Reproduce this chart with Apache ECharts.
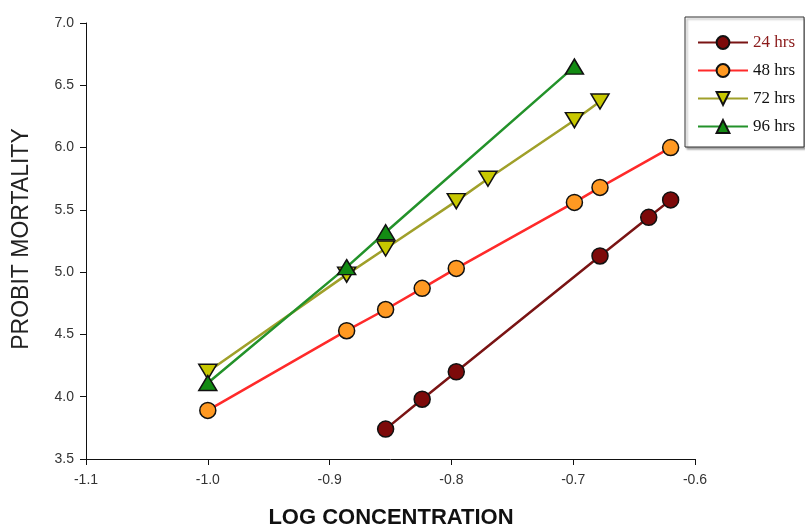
<!DOCTYPE html>
<html>
<head>
<meta charset="utf-8">
<script src="https://cdn.jsdelivr.net/npm/echarts@6/dist/echarts.min.js"></script>
<style>html,body{margin:0;padding:0;background:#fff}#c{width:805px;height:529px}</style>
</head>
<body>
<div id="c"></div>
<script>
// Data (log concentration vs probit mortality)
const seriesNames = ['24 hrs', '48 hrs', '72 hrs', '96 hrs'];
const x24 = [-0.854, -0.824, -0.796, -0.678, -0.638, -0.620];
const y24 = [3.74, 3.98, 4.20, 5.13, 5.44, 5.58];
const x48 = [-1.0, -0.886, -0.854, -0.824, -0.796, -0.699, -0.678, -0.620];
const y48 = [3.89, 4.53, 4.70, 4.87, 5.03, 5.56, 5.68, 6.00];
const x72 = [-1.0, -0.886, -0.854, -0.796, -0.770, -0.699, -0.678];
const y72 = [4.20, 4.98, 5.19, 5.57, 5.75, 6.22, 6.37];
const x96 = [-1.0, -0.886, -0.854, -0.699];
const y96 = [4.11, 5.04, 5.32, 6.65];
const xTicks = { min: -1.1, max: -0.6, interval: 0.1 };
const yTicks = { min: 3.5, max: 7.0, interval: 0.5 };
const xTitle = 'LOG CONCENTRATION';
const yTitle = 'PROBIT MORTALITY';

const pairs = (xs, ys) => xs.map((v, i) => [v, ys[i]]);

const styles = [
  { line: '#7a1414', fill: '#7d0a0a', symbol: 'circle', size: 16, rot: 0 },
  { line: '#ff2a2a', fill: '#ff9922', symbol: 'circle', size: 16, rot: 0 },
  { line: '#a0a02a', fill: '#c8c800', symbol: 'triangle', size: [18, 15], rot: 180 },
  { line: '#23922a', fill: '#138b13', symbol: 'triangle', size: [18, 15], rot: 0 }
];
const datasets = [pairs(x24, y24), pairs(x48, y48), pairs(x72, y72), pairs(x96, y96)];

const chart = echarts.init(document.getElementById('c'), null, { renderer: 'canvas' });
const axisFont = 'Liberation Sans, Arial, sans-serif';

chart.setOption({
  animation: false,
  backgroundColor: '#fff',
  grid: { left: 86, right: 110, top: 23, bottom: 70, containLabel: false },
  xAxis: {
    type: 'value', min: xTicks.min, max: xTicks.max, interval: xTicks.interval,
    axisLine: { lineStyle: { color: '#111', width: 1 } },
    axisTick: { show: true, length: 6, inside: false, lineStyle: { color: '#111' } },
    axisLabel: { color: '#333', fontSize: 14, fontFamily: axisFont, margin: 14,
      formatter: v => v.toFixed(1) },
    splitLine: { show: false }
  },
  yAxis: {
    type: 'value', min: yTicks.min, max: yTicks.max, interval: yTicks.interval,
    axisLine: { show: true, lineStyle: { color: '#111', width: 1 } },
    axisTick: { show: true, length: 6, inside: false, lineStyle: { color: '#111' } },
    axisLabel: { color: '#333', fontSize: 14, fontFamily: axisFont, margin: 12,
      formatter: v => v.toFixed(1) },
    splitLine: { show: false }
  },
  graphic: [{
    type: 'text', x: 22, y: 239, rotation: Math.PI / 2,
    style: { text: yTitle, fontFamily: axisFont, fontSize: 23,
      fill: '#222', textAlign: 'center', textVerticalAlign: 'middle' }
  }, {
    type: 'text', x: 391, y: 518,
    style: { text: xTitle, fontFamily: axisFont, fontSize: 22, fontWeight: 'bold',
      fill: '#111', textAlign: 'center', textVerticalAlign: 'middle' }
  }],
  legend: {
    orient: 'vertical', left: 685, top: 17,
    padding: [17, 9, 12, 12], itemGap: 11, itemWidth: 50, itemHeight: 16,
    borderColor: '#333', borderWidth: 1, backgroundColor: '#fff',
    shadowColor: 'rgba(0,0,0,0.35)', shadowOffsetX: 2, shadowOffsetY: 2, shadowBlur: 2,
    textStyle: { fontFamily: 'Liberation Serif, Times New Roman, serif', fontSize: 17, color: '#111' },
    data: seriesNames.map((n, i) => i === 0 ? { name: n, textStyle: { color: '#8b1a1a' } } : { name: n })
  },
  series: datasets.map((d, i) => ({
    name: seriesNames[i], type: 'line', data: d,
    symbol: styles[i].symbol, symbolSize: styles[i].size, symbolRotate: styles[i].rot,
    showAllSymbol: true,
    lineStyle: { color: styles[i].line, width: 2.5 },
    itemStyle: { color: styles[i].fill, borderColor: '#111', borderWidth: 1.5 },
    z: 2 + i
  }))
});
</script>
</body>
</html>
